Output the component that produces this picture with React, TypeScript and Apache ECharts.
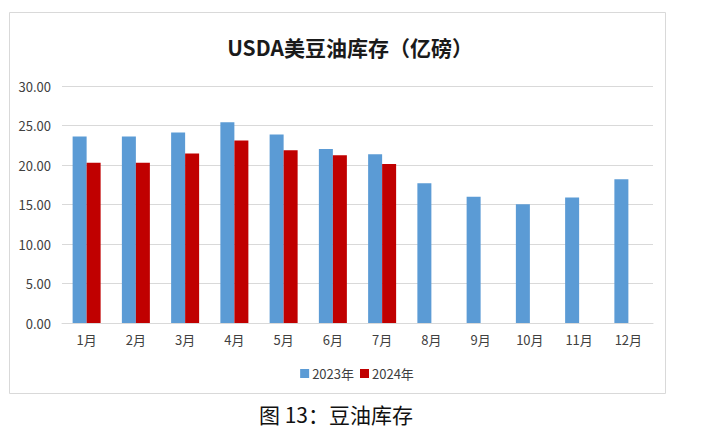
import React, { useEffect, useRef } from "react";
import * as echarts from "echarts";

const months = ["1月", "2月", "3月", "4月", "5月", "6月", "7月", "8月", "9月", "10月", "11月", "12月"];
const series2023 = [23.6, 23.6, 24.1, 25.4, 23.86, 22.04, 21.36, 17.68, 15.99, 15.02, 15.9, 18.19];
const series2024: (number | null)[] = [20.3, 20.3, 21.45, 23.1, 21.87, 21.24, 20.14, null, null, null, null, null];
const seriesNames = ["2023年", "2024年"];
const titleText = "USDA美豆油库存（亿磅）";
const captionText = "图 13：豆油库存";

export default function App() {
  const ref = useRef<HTMLDivElement>(null);
  useEffect(() => {
    if (!ref.current) return;
    const chart = echarts.init(ref.current, null, { renderer: "svg" });
    chart.setOption({
      animation: false,
      backgroundColor: "#ffffff",
      title: {
        text: titleText,
        left: 345,
        textAlign: "center",
        top: 31,
        textStyle: {
          fontFamily: "Noto Sans CJK SC",
          fontWeight: "bold",
          fontSize: 21,
          color: "#1a1a1a",
        },
      },
      legend: {
        data: seriesNames,
        left: "center",
        top: 362,
        itemWidth: 9,
        itemHeight: 9,
        itemGap: 6,
        icon: "rect",
        textStyle: { fontFamily: "Noto Sans CJK SC", fontSize: 13, color: "#404040", padding: [0, 0, 0, -2] },
      },
      grid: { left: 62, right: 61, top: 86, bottom: 110, containLabel: false },
      xAxis: {
        type: "category",
        data: months,
        axisLine: { lineStyle: { color: "#d9d9d9" } },
        axisTick: { show: false },
        axisLabel: { fontFamily: "Noto Sans CJK SC", fontSize: 13, color: "#404040", margin: 10 },
      },
      yAxis: {
        type: "value",
        min: 0,
        max: 30,
        interval: 5,
        axisLine: { show: false },
        axisTick: { show: false },
        splitLine: { lineStyle: { color: "#d9d9d9" } },
        axisLabel: {
          fontFamily: "Noto Sans CJK SC",
          fontSize: 13,
          color: "#404040",
          margin: 11,
          formatter: (v: number) => v.toFixed(2),
        },
      },
      series: [
        {
          name: seriesNames[0],
          type: "bar",
          data: series2023,
          barWidth: 14,
          barGap: "0%",
          itemStyle: { color: "#5b9bd5" },
        },
        {
          name: seriesNames[1],
          type: "bar",
          data: series2024,
          barWidth: 14,
          barGap: "0%",
          itemStyle: { color: "#c00000" },
        },
      ],
      graphic: [
        {
          type: "rect",
          shape: { x: 9.5, y: 12.5, width: 656, height: 381 },
          style: { fill: "none", stroke: "#d9d9d9", lineWidth: 1 },
          silent: true,
        },
        {
          type: "text",
          x: 336,
          y: 414,
          style: {
            text: captionText,
            fontFamily: "Noto Sans CJK SC",
            fontSize: 21,
            fill: "#111111",
            textAlign: "center",
            textVerticalAlign: "middle",
          },
        },
      ],
    });
    return () => chart.dispose();
  }, []);
  return <div ref={ref} style={{ position: "fixed", left: 0, top: 0, width: 714, height: 433 }} />;
}
